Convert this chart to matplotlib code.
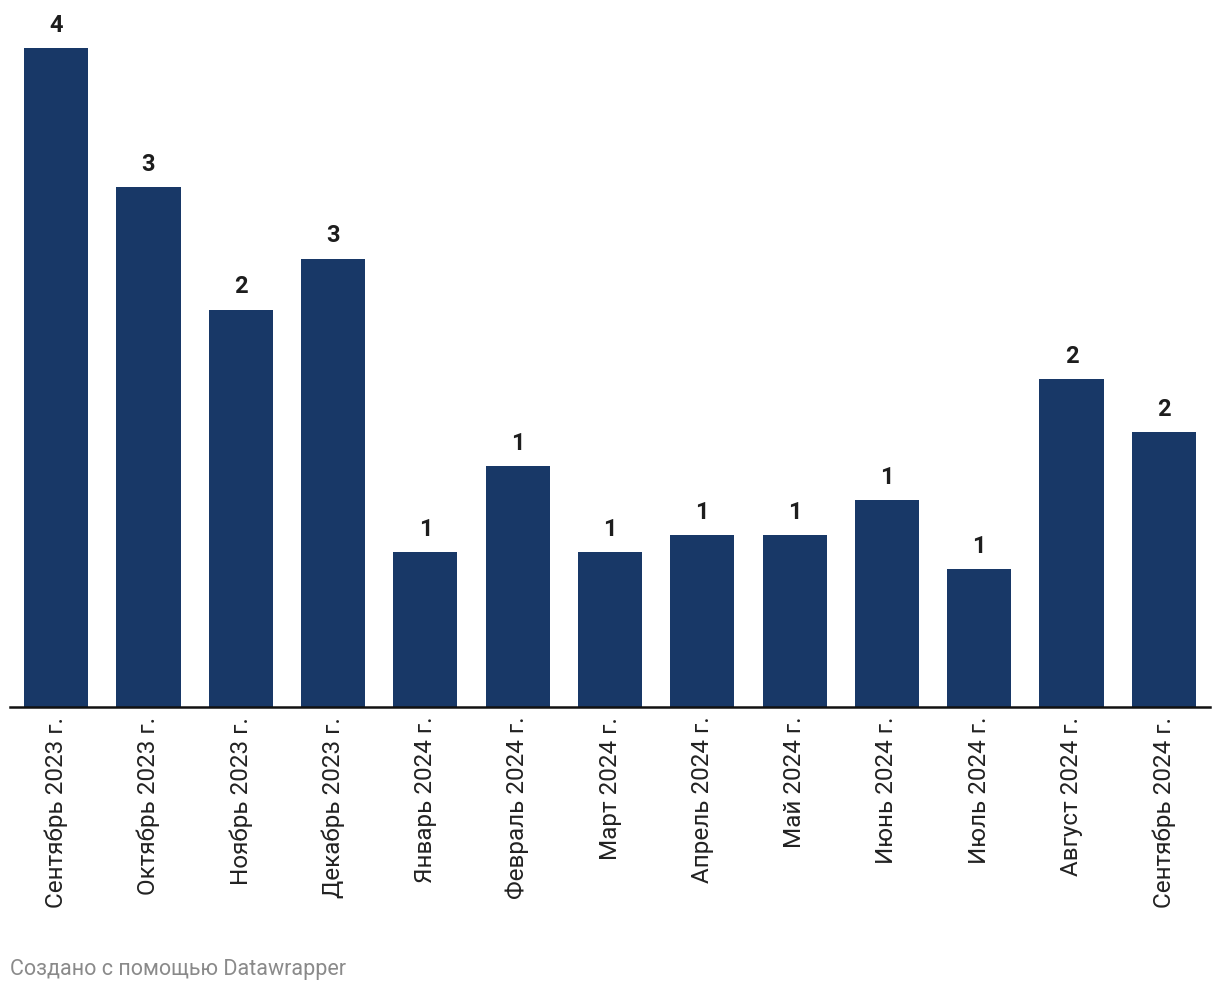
import matplotlib
matplotlib.use("Agg")
import matplotlib.pyplot as plt

plt.rcParams['font.family'] = ['Roboto', 'DejaVu Sans']

# -----------------------
# Data
# -----------------------
months = [
    "Сентябрь 2023 г.", "Октябрь 2023 г.", "Ноябрь 2023 г.", "Декабрь 2023 г.",
    "Январь 2024 г.", "Февраль 2024 г.", "Март 2024 г.", "Апрель 2024 г.",
    "Май 2024 г.", "Июнь 2024 г.", "Июль 2024 г.", "Август 2024 г.",
    "Сентябрь 2024 г.",
]
values = [3.88, 3.06, 2.34, 2.64, 0.91, 1.42, 0.91, 1.01, 1.01, 1.22, 0.81, 1.93, 1.62]

BAR_COLOR = "#183867"

# -----------------------
# Plot
# -----------------------
fig = plt.figure(figsize=(12.2, 9.94), dpi=100)
ax = fig.add_axes([10 / 1220, (994 - 707) / 994, 1200 / 1220, (707 - 48) / 994])

x = list(range(len(months)))
ax.bar(x, values, width=0.695, color=BAR_COLOR)
ax.set_xlim(-0.5, len(months) - 0.5)
ax.set_ylim(0, max(values))

for xi, v in zip(x, values):
    ax.annotate(f"{v:.0f}", (xi, v), xytext=(0, 8), textcoords="offset points",
                ha="center", va="bottom", fontsize=17, fontweight="bold", color="#1d1d1d")

ax.set_xticks(x)
ax.set_xticklabels(months, rotation=90, fontsize=17.5, color="#222222")
ax.tick_params(axis="x", length=0, pad=7)
ax.set_yticks([])
for side in ["top", "right", "left"]:
    ax.spines[side].set_visible(False)
ax.spines["bottom"].set_linewidth(1.8)
ax.spines["bottom"].set_color("#111111")

fig.text(10 / 1220, 1 - 970 / 994, "Создано с помощью Datawrapper",
         fontsize=15.5, color="#8a8a8a", ha="left", va="center")

fig.savefig("out.png", dpi=100)
